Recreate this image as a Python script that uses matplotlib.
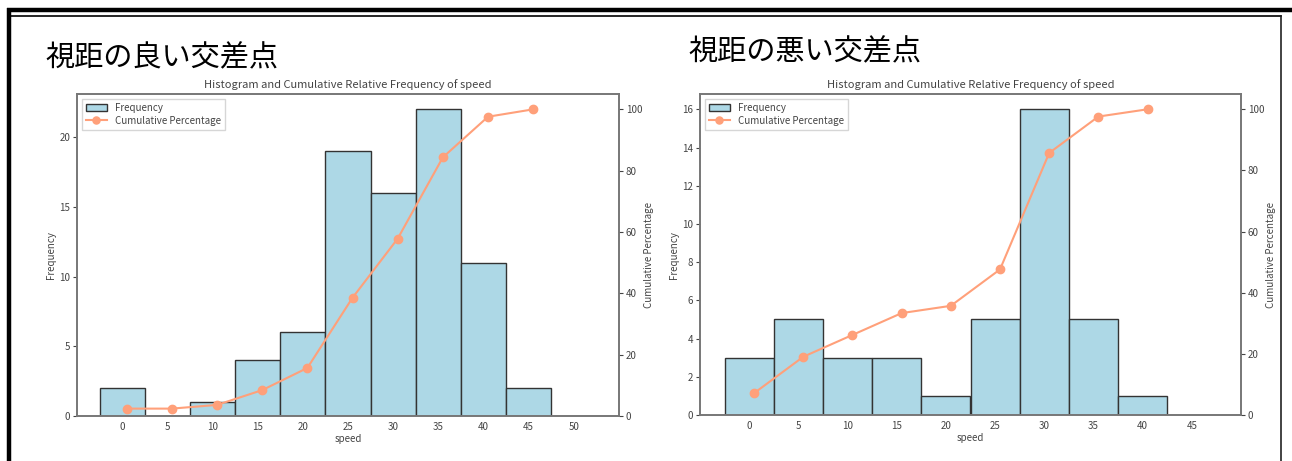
import matplotlib.pyplot as plt
import numpy as np

plt.rcParams['font.family'] = ['Noto Sans CJK JP', 'DejaVu Sans']

# speed bins (centres, width 5) and counts for each intersection type
good_title = "視距の良い交差点"
good_bins = [0, 5, 10, 15, 20, 25, 30, 35, 40, 45]
good_counts = [2, 0, 1, 4, 6, 19, 16, 22, 11, 2]
good_xticks = [0, 5, 10, 15, 20, 25, 30, 35, 40, 45, 50]

bad_title = "視距の悪い交差点"
bad_bins = [0, 5, 10, 15, 20, 25, 30, 35, 40]
bad_counts = [3, 5, 3, 3, 1, 5, 16, 5, 1]
bad_xticks = [0, 5, 10, 15, 20, 25, 30, 35, 40, 45]

W, H = 1292, 461
fig = plt.figure(figsize=(W / 100, H / 100), dpi=100)

txt = "#444444"
spine = "#777777"


def hist_panel(rect, bins, counts, xticks, xlim, yticks):
    ax = fig.add_axes(rect)
    bins = np.array(bins)
    counts = np.array(counts)
    ax.bar(bins, counts, width=5, color="lightblue", edgecolor="#333333",
           linewidth=1.0, label="Frequency", zorder=2)
    ax.set_xlim(*xlim)
    ax.set_ylim(0, counts.max() * 1.05)
    ax.set_xticks(xticks)
    ax.set_yticks(yticks)
    ax.set_xlabel("speed", fontsize=7, color=txt, labelpad=2)
    ax.set_ylabel("Frequency", fontsize=7, color=txt, labelpad=2)
    ax.set_title("Histogram and Cumulative Relative Frequency of speed",
                 fontsize=8, color=txt, pad=4)

    cum = np.cumsum(counts) / counts.sum() * 100
    ax2 = ax.twinx()
    ax2.plot(bins + 0.5, cum, color="lightsalmon", marker="o", markersize=6,
             linewidth=1.5, label="Cumulative Percentage", zorder=3)
    ax2.set_ylim(0, 105)
    ax2.set_yticks([0, 20, 40, 60, 80, 100])
    ax2.set_ylabel("Cumulative Percentage", fontsize=7, color=txt, labelpad=1)

    for a in (ax, ax2):
        for s in a.spines.values():
            s.set_color(spine)
            s.set_linewidth(1.2)
        a.tick_params(labelsize=7, colors=txt, length=3, width=0.8, pad=2)
    ax.tick_params(axis="x", length=0, pad=4)

    h1, l1 = ax.get_legend_handles_labels()
    h2, l2 = ax2.get_legend_handles_labels()
    leg = ax2.legend(h1 + h2, l1 + l2, loc="upper left", fontsize=7,
                     frameon=True, fancybox=False, borderpad=0.4,
                     handlelength=2.2, labelspacing=0.3, markerscale=0.85,
                     bbox_to_anchor=(0.0, 1.0))
    leg.get_frame().set_edgecolor("#cccccc")
    for t in leg.get_texts():
        t.set_color(txt)
    return ax


hist_panel([77 / W, 1 - 416 / H, 542 / W, 322 / H],
           good_bins, good_counts, good_xticks, (-5, 55), [0, 5, 10, 15, 20])
hist_panel([700 / W, 1 - 415 / H, 541 / W, 321 / H],
           bad_bins, bad_counts, bad_xticks, (-5, 50),
           [0, 2, 4, 6, 8, 10, 12, 14, 16])

# headings above each panel
fig.text(45 / W, 1 - 58 / H, good_title, fontsize=21, color="black",
         va="center", ha="left")
fig.text(688 / W, 1 - 52 / H, bad_title, fontsize=21, color="black",
         va="center", ha="left")

# page frame drawn in pixel coordinates
frame = fig.add_axes([0, 0, 1, 1], facecolor="none")
frame.set_xlim(0, W)
frame.set_ylim(H, 0)
frame.axis("off")
frame.plot([7, W], [10, 10], color="black", linewidth=3.2, solid_capstyle="butt")
frame.plot([9, 9], [8, H], color="black", linewidth=3.2, solid_capstyle="butt")
frame.plot([11, 1281], [16.5, 16.5], color="black", linewidth=1.2)
frame.plot([1281, 1281], [16, H], color="#222222", linewidth=1.2)

fig.savefig("out.png", dpi=100)
